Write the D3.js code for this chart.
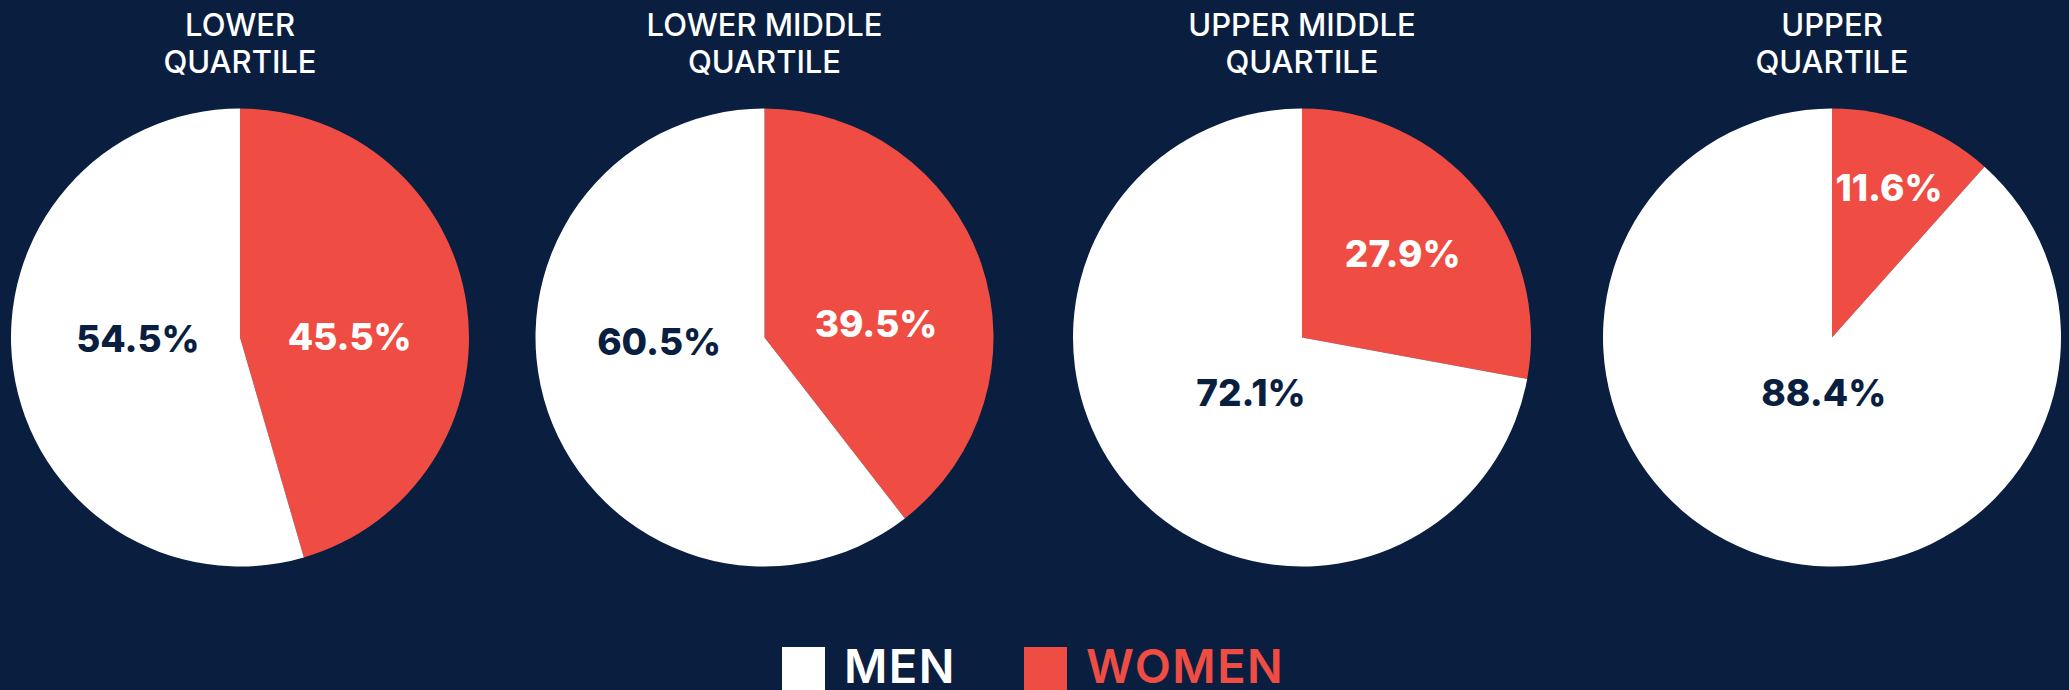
<!DOCTYPE html>
<html>
<head>
<meta charset="utf-8">
<script src="https://cdn.jsdelivr.net/npm/d3@7"></script>
<style>
  html, body { margin: 0; padding: 0; background: #0A1F40; overflow: hidden; }
  svg { display: block; }
</style>
</head>
<body>
<svg id="chart" width="2069" height="690"></svg>
<script>
// ---- data ----
const quartiles = ["LOWER QUARTILE", "LOWER MIDDLE QUARTILE", "UPPER MIDDLE QUARTILE", "UPPER QUARTILE"];
const titleLine1 = ["LOWER", "LOWER MIDDLE", "UPPER MIDDLE", "UPPER"];
const titleLine2 = ["QUARTILE", "QUARTILE", "QUARTILE", "QUARTILE"];
const groups = ["WOMEN", "MEN"];
const women = [45.5, 39.5, 27.9, 11.6];
const men = [54.5, 60.5, 72.1, 88.4];

// ---- style / layout ----
const W = 2069, H = 690;
const BG = "#0A1F40", RED = "#EF4D43", WHITE = "#FFFFFF";
const R = 229, CY = 337.5;
// label anchor positions (fraction of radius, relative to pie centre), like the source's "best fit" labels
const labelAt = {
  WOMEN: [[0.479, -0.005], [0.487, -0.062], [0.440, -0.368], [0.249, -0.656]],
  MEN:   [[-0.446, 0.007], [-0.460, 0.018], [-0.223, 0.243], [-0.036, 0.243]]
};

const svg = d3.select("#chart");
svg.append("rect").attr("width", W).attr("height", H).attr("fill", BG);

const xPos = d3.scaleOrdinal().domain(quartiles).range([240, 764.5, 1302, 1832]);
const color = d3.scaleOrdinal().domain(groups).range([RED, WHITE]);
const textColor = d3.scaleOrdinal().domain(groups).range([WHITE, BG]);

const pie = d3.pie().sort(null).value(d => d.value);
const arc = d3.arc().innerRadius(0).outerRadius(R);

quartiles.forEach((q, i) => {
  const g = svg.append("g").attr("transform", `translate(${xPos(q)},${CY})`);
  const slices = pie([
    { key: "WOMEN", value: women[i] },
    { key: "MEN", value: men[i] }
  ]);
  g.selectAll("path").data(slices).join("path")
    .attr("d", arc)
    .attr("fill", d => color(d.data.key));

  g.selectAll("text.lbl").data(slices).join("text")
    .attr("class", "lbl")
    .attr("transform", d => {
      const p = labelAt[d.data.key][i];
      return `translate(${p[0] * R},${p[1] * R})`;
    })
    .attr("text-anchor", "middle")
    .attr("dy", "0.36em")
    .attr("fill", d => textColor(d.data.key))
    .style("font-family", "Inter, 'Open Sans', sans-serif")
    .style("font-weight", 800)
    .style("font-size", "37px")
    .text(d => d.data.value.toFixed(1) + "%");

  const t = svg.append("text")
    .attr("x", xPos(q))
    .attr("text-anchor", "middle")
    .attr("fill", WHITE)
    .style("font-family", "Inter, 'Open Sans', sans-serif")
    .style("font-weight", 500)
    .style("font-size", "31px");
  t.append("tspan").attr("x", xPos(q)).attr("y", 36).text(titleLine1[i]);
  t.append("tspan").attr("x", xPos(q)).attr("y", 73).text(titleLine2[i]);
});

// ---- legend ----
const legendItems = ["MEN", "WOMEN"];
const legendX = d3.scaleOrdinal().domain(legendItems).range([782, 1024]);
const leg = svg.append("g");
legendItems.forEach(k => {
  leg.append("rect")
    .attr("x", legendX(k)).attr("y", 647)
    .attr("width", 43).attr("height", 43)
    .attr("fill", color(k));
  leg.append("text")
    .attr("x", legendX(k) + 62).attr("y", 683)
    .attr("fill", color(k))
    .style("font-family", "Inter, 'Open Sans', sans-serif")
    .style("font-weight", 600)
    .style("font-size", "47px")
    .style("letter-spacing", "1.5px")
    .text(k);
});
</script>
</body>
</html>
